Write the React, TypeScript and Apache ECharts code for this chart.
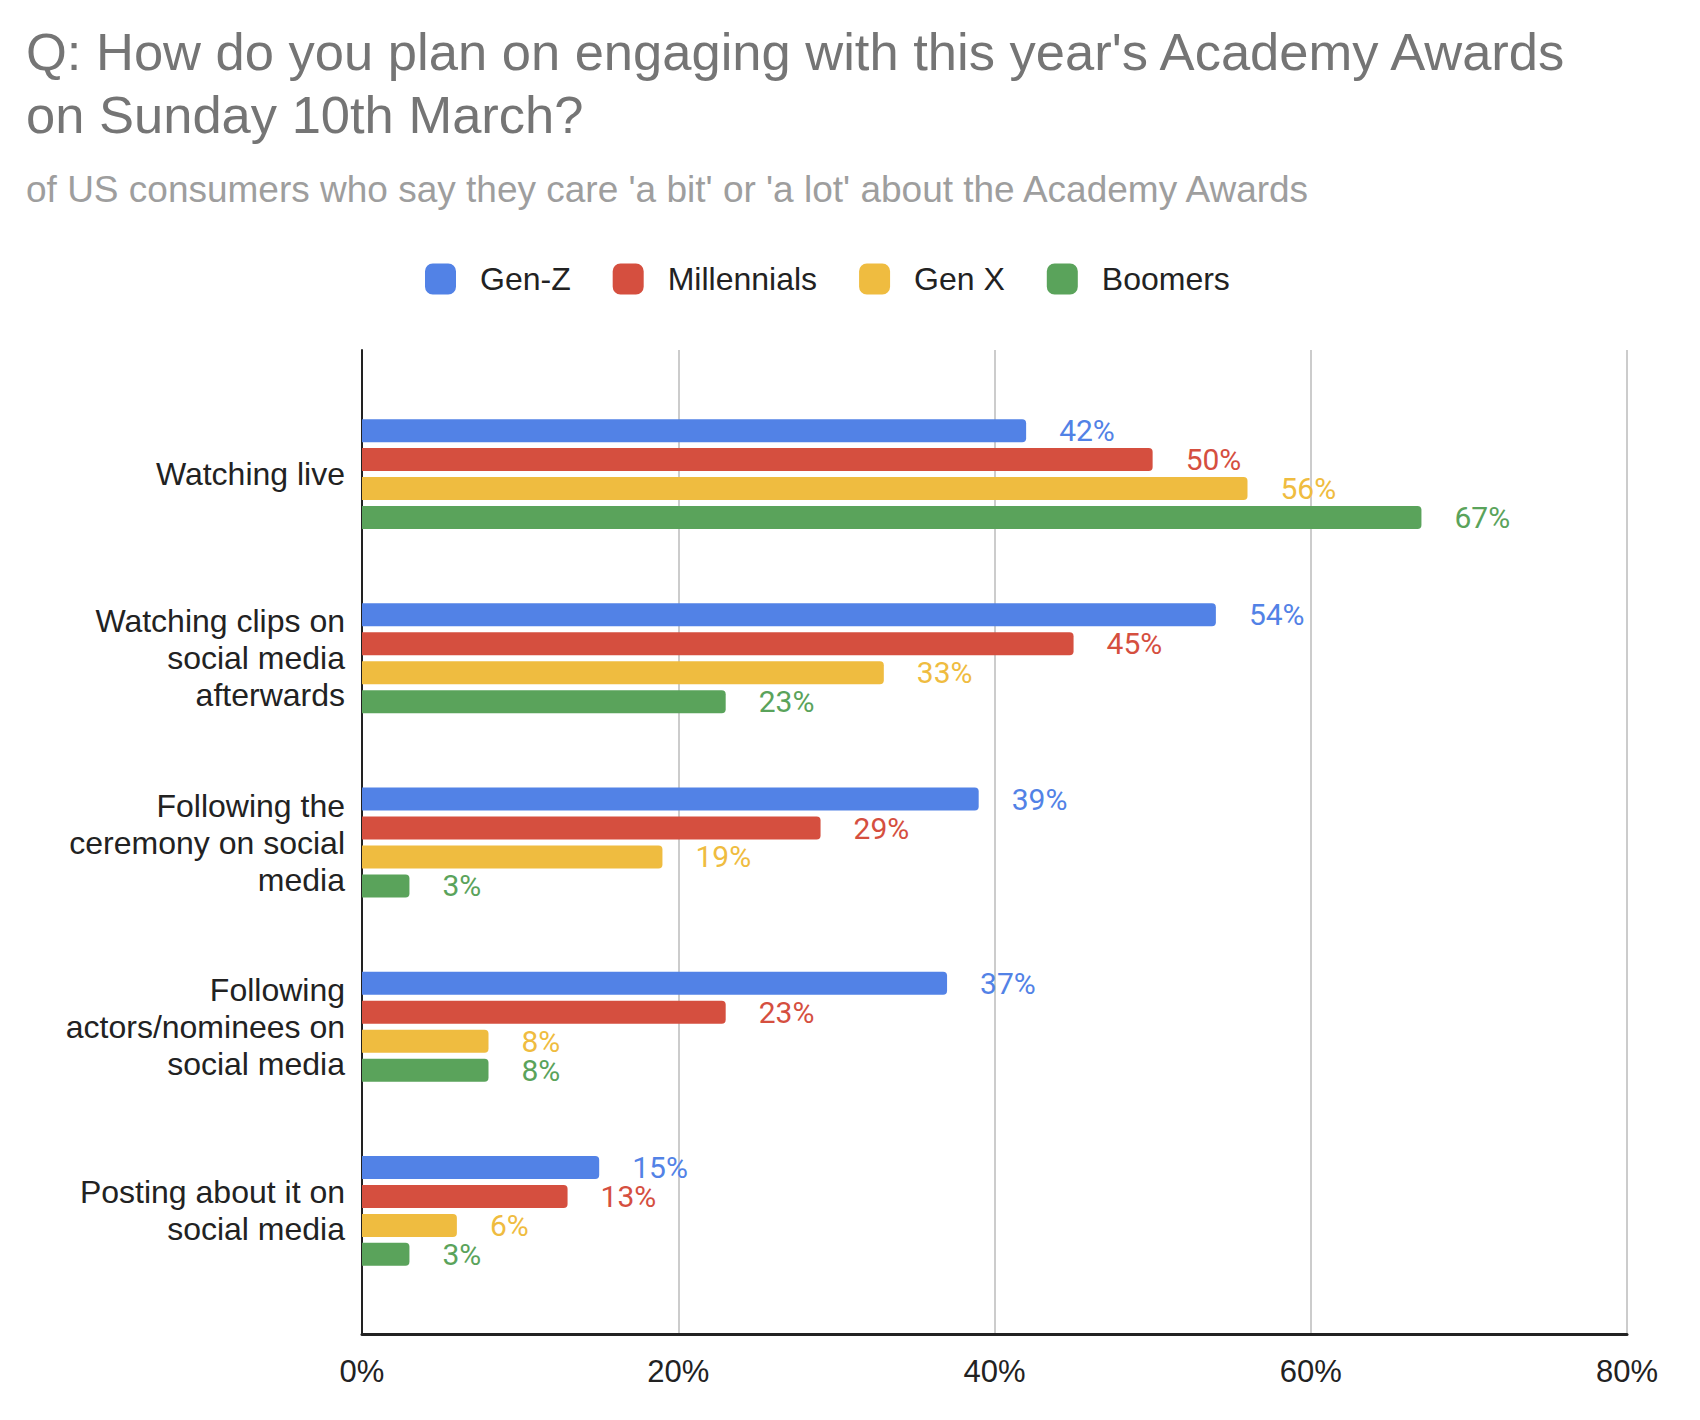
import React, { useEffect, useRef } from "react";
import * as echarts from "echarts";

const categories = [
  "Watching live",
  "Watching clips on\nsocial media\nafterwards",
  "Following the\nceremony on social\nmedia",
  "Following\nactors/nominees on\nsocial media",
  "Posting about it on\nsocial media",
];
const seriesNames = ["Gen-Z", "Millennials", "Gen X", "Boomers"];
const genZ = [42, 54, 39, 37, 15];
const millennials = [50, 45, 29, 23, 13];
const genX = [56, 33, 19, 8, 6];
const boomers = [67, 23, 3, 8, 3];
const xTicks = [0, 20, 40, 60, 80];

const colors = ["#5282E6", "#D54F3F", "#EFBC40", "#5AA35B"];
const titleText = "Q: How do you plan on engaging with this year's Academy Awards\non Sunday 10th March?";
const subtitleText = "of US consumers who say they care 'a bit' or 'a lot' about the Academy Awards";

const ARIAL = "'Liberation Sans', Arial, sans-serif";

export default function App() {
  const ref = useRef<HTMLDivElement>(null);
  useEffect(() => {
    document.body.style.margin = "0";
    const chart = echarts.init(ref.current!, null, { renderer: "svg" });
    const values = [genZ, millennials, genX, boomers];
    const plotLeft = 362;
    const plotWidth = 1265;
    chart.setOption({
      animation: false,
      backgroundColor: "#ffffff",
      graphic: [
        {
          type: "text",
          left: 26,
          top: 20,
          style: {
            text: titleText,
            font: "52.5px " + ARIAL,
            lineHeight: 63,
            fill: "#757575",
          },
        },
        {
          type: "text",
          left: 26,
          top: 171,
          style: {
            text: subtitleText,
            font: "37px " + ARIAL,
            fill: "#9E9E9E",
          },
        },
      ],
      legend: {
        data: seriesNames,
        left: 425,
        top: 263,
        padding: 0,
        icon: "roundRect",
        itemWidth: 31,
        itemHeight: 31,
        itemGap: 42,
        textStyle: {
          fontFamily: ARIAL,
          fontSize: 32,
          color: "#222222",
          padding: [0, 0, 0, 19],
        },
      },
      grid: [
        { left: plotLeft, top: 350, width: plotWidth, height: 984, containLabel: false },
        { left: plotLeft, top: 382, width: plotWidth, height: 921, containLabel: false },
      ],
      xAxis: [
        {
          gridIndex: 0,
          type: "value",
          min: xTicks[0],
          max: xTicks[xTicks.length - 1],
          interval: 20,
          axisLine: { show: true, lineStyle: { color: "#222222", width: 3 } },
          axisTick: { show: false },
          splitLine: { show: true, lineStyle: { color: "#CCCCCC", width: 2 } },
          axisLabel: {
            formatter: "{value}%",
            fontFamily: ARIAL,
            fontSize: 31,
            color: "#222222",
            margin: 22,
          },
        },
        {
          gridIndex: 1,
          type: "value",
          min: xTicks[0],
          max: xTicks[xTicks.length - 1],
          show: false,
        },
      ],
      yAxis: [
        {
          gridIndex: 0,
          type: "value",
          min: 0,
          max: 1,
          axisLine: { show: true, lineStyle: { color: "#222222", width: 2 } },
          axisTick: { show: false },
          axisLabel: { show: false },
          splitLine: { show: false },
        },
        {
          gridIndex: 1,
          type: "category",
          inverse: true,
          data: categories,
          axisLine: { show: false },
          axisTick: { show: false },
          axisLabel: {
            fontFamily: ARIAL,
            fontSize: 32,
            lineHeight: 37,
            color: "#222222",
            margin: 17,
            align: "right",
          },
        },
      ],
      series: seriesNames.map((name, i) => ({
        name,
        type: "bar",
        xAxisIndex: 1,
        yAxisIndex: 1,
        data: values[i],
        barWidth: 23,
        barGap: "26%",
        itemStyle: { color: colors[i], borderRadius: [0, 4, 4, 0] },
        label: {
          show: true,
          position: "right",
          distance: 33,
          formatter: "{c}%",
          fontFamily: "Roboto",
          fontSize: 30,
          lineHeight: 27,
          color: colors[i],
        },
      })),
    });
    return () => chart.dispose();
  }, []);
  return <div ref={ref} style={{ width: 1700, height: 1420 }} />;
}
